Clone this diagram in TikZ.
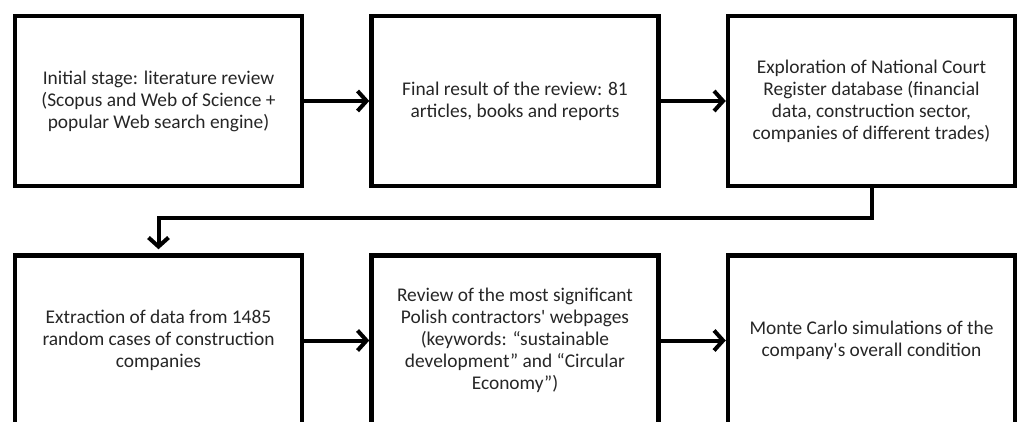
\documentclass[tikz,border=0pt]{standalone}
\usepackage{fontspec}
\setmainfont{Carlito}[Ligatures=TeXOff]
\usetikzlibrary{positioning,arrows.meta}

\tikzset{
  stagebox/.style={draw=black, line width=4.5pt, minimum width=287pt, minimum height=170pt,
    align=center, text=black!85, font=\fontsize{19.4pt}{22pt}\selectfont, inner sep=0pt},
  flowarrow/.style={line width=4pt, -{Straight Barb[length=9pt,width=20pt]}}
}

\begin{document}
\begin{tikzpicture}
  \useasboundingbox (0pt,0pt) rectangle (1017pt,-422pt);
  \clip (0pt,0pt) rectangle (1017pt,-422pt);

  % top row
  \node[stagebox] (litreview) at (158.5pt,-101pt) {Initial stage: literature review\\(Scopus and Web of Science +\\popular Web search engine)};
  \node[stagebox, right=65pt of litreview] (result) {Final result of the review: 81\\articles, books and reports};
  \node[stagebox, right=65pt of result] (register) {Exploration of National Court\\Register database (financial\\data, construction sector,\\companies of different trades)};

  % bottom row
  \node[stagebox, below=65pt of litreview] (extraction) {Extraction of data from 1485\\random cases of construction\\companies};
  \node[stagebox, right=65pt of extraction] (webpages) {Review of the most significant\\Polish contractors' webpages\\(keywords: “sustainable\\development” and “Circular\\Economy”)};
  \node[stagebox, right=65pt of webpages] (montecarlo) {Monte Carlo simulations of the\\company's overall condition};

  % connectors
  \draw[flowarrow] (litreview) -- (result);
  \draw[flowarrow] (result) -- (register);
  \draw[flowarrow, shorten >=4pt] (register.south) -- ++(0,-30pt) -| (extraction.north);
  \draw[flowarrow] (extraction) -- (webpages);
  \draw[flowarrow] (webpages) -- (montecarlo);
\end{tikzpicture}
\end{document}
